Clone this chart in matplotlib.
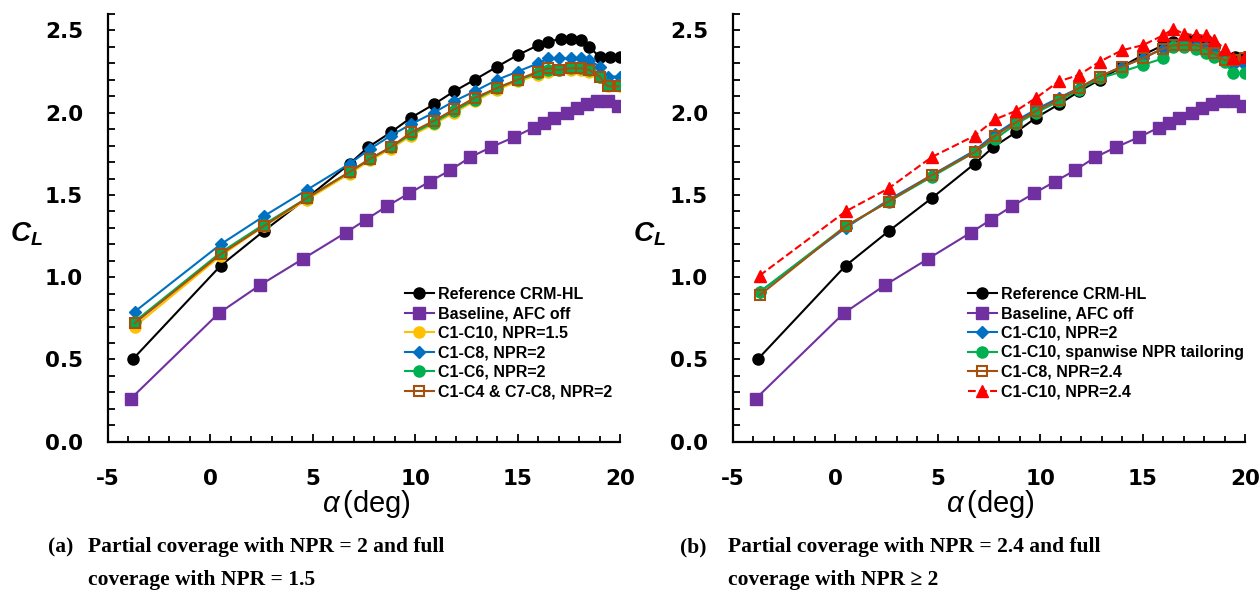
import matplotlib
matplotlib.use("Agg")
import matplotlib.pyplot as plt
from matplotlib.ticker import MultipleLocator

plt.rcParams['font.family'] = 'Liberation Sans'
plt.rcParams['axes.unicode_minus'] = False
plt.rcParams['mathtext.fontset'] = 'custom'
plt.rcParams['mathtext.it'] = 'Liberation Sans:italic'
plt.rcParams['mathtext.bf'] = 'Liberation Sans:italic:bold'

# angle of attack (deg)
alpha_ref = [-3.8, 0.5, 2.6, 4.7, 6.8, 7.7, 8.8, 9.8, 10.9, 11.9, 12.9, 14.0, 15.0,
             16.0, 16.5, 17.1, 17.6, 18.1, 18.5, 19.0, 19.5, 20.0]
alpha_base = [-3.9, 0.4, 2.4, 4.5, 6.6, 7.6, 8.6, 9.7, 10.7, 11.7, 12.7, 13.7, 14.8,
              15.8, 16.3, 16.8, 17.4, 17.9, 18.4, 18.9, 19.4, 19.9]
alpha_afc = [-3.7, 0.5, 2.6, 4.7, 6.8, 7.8, 8.8, 9.8, 10.9, 11.9, 12.9, 14.0, 15.0,
             16.0, 16.5, 17.0, 17.6, 18.1, 18.5, 19.0, 19.4, 20.0]

cl_ref = [0.50, 1.07, 1.28, 1.48, 1.69, 1.79, 1.88, 1.97, 2.05, 2.13, 2.20, 2.28, 2.35,
          2.41, 2.43, 2.45, 2.45, 2.44, 2.40, 2.34, 2.34, 2.34]
cl_base = [0.26, 0.78, 0.95, 1.11, 1.27, 1.35, 1.43, 1.51, 1.58, 1.65, 1.73, 1.79, 1.85,
           1.91, 1.94, 1.97, 2.00, 2.03, 2.05, 2.07, 2.07, 2.04]

# (a) partial coverage NPR=2, full coverage NPR=1.5
cl_c10_15 = [0.70, 1.13, 1.31, 1.47, 1.63, 1.71, 1.78, 1.86, 1.93, 2.00, 2.07, 2.14, 2.19,
             2.23, 2.25, 2.26, 2.26, 2.26, 2.25, 2.22, 2.16, 2.16]
cl_c8_2 = [0.79, 1.20, 1.37, 1.53, 1.69, 1.78, 1.86, 1.93, 2.00, 2.07, 2.13, 2.20, 2.25,
           2.30, 2.33, 2.33, 2.33, 2.33, 2.32, 2.28, 2.22, 2.22]
cl_c6_2 = [0.73, 1.15, 1.32, 1.48, 1.64, 1.72, 1.79, 1.87, 1.94, 2.01, 2.08, 2.15, 2.20,
           2.24, 2.26, 2.26, 2.27, 2.27, 2.26, 2.22, 2.17, 2.17]
cl_c4c7_2 = [0.72, 1.14, 1.31, 1.48, 1.64, 1.72, 1.79, 1.88, 1.95, 2.02, 2.09, 2.15, 2.20,
             2.25, 2.27, 2.26, 2.27, 2.27, 2.26, 2.22, 2.16, 2.16]

# (b) partial coverage NPR=2.4, full coverage NPR>=2
cl_c10_2 = [0.91, 1.30, 1.47, 1.62, 1.77, 1.87, 1.95, 2.02, 2.09, 2.15, 2.22, 2.28, 2.33,
            2.39, 2.41, 2.42, 2.41, 2.40, 2.37, 2.33, 2.29, 2.29]
cl_c10_span = [0.91, 1.31, 1.46, 1.61, 1.76, 1.84, 1.93, 2.00, 2.07, 2.14, 2.21, 2.25, 2.29,
               2.33, 2.40, 2.40, 2.39, 2.36, 2.34, 2.31, 2.24, 2.24]
cl_c8_24 = [0.89, 1.31, 1.46, 1.62, 1.76, 1.86, 1.94, 2.01, 2.08, 2.15, 2.22, 2.28, 2.33,
            2.39, 2.41, 2.41, 2.41, 2.39, 2.36, 2.32, 2.32, 2.33]
cl_c10_24 = [1.01, 1.40, 1.54, 1.73, 1.86, 1.96, 2.01, 2.09, 2.19, 2.23, 2.31, 2.38, 2.41,
             2.47, 2.51, 2.48, 2.47, 2.47, 2.44, 2.39, 2.33, 2.34]

PURPLE = '#7030A0'
YELLOW = '#FFC000'
BLUE = '#0070C0'
GREEN = '#00B050'
BROWN = '#A5500F'

fig = plt.figure(figsize=(12.6, 5.96), dpi=100)
W, H = 1260.0, 596.0
ax1 = fig.add_axes([108 / W, 1 - 441.7 / H, 512 / W, 427.7 / H])
ax2 = fig.add_axes([733 / W, 1 - 441.7 / H, 512 / W, 427.7 / H])

lw = 1.5
ms = 8


def common(ax):
    ax.plot(alpha_ref, cl_ref, '-o', color='black', lw=lw, ms=ms, label='Reference CRM-HL')
    ax.plot(alpha_base, cl_base, '-s', color=PURPLE, lw=lw, ms=ms, label='Baseline, AFC off')


# ---- (a)
common(ax1)
ax1.plot(alpha_afc, cl_c10_15, '-o', color=YELLOW, lw=lw, ms=ms, label='C1-C10, NPR=1.5')
ax1.plot(alpha_afc, cl_c8_2, '-D', color=BLUE, lw=lw, ms=6.5, label='C1-C8, NPR=2')
ax1.plot(alpha_afc, cl_c6_2, '-o', color=GREEN, lw=lw, ms=ms, label='C1-C6, NPR=2')
ax1.plot(alpha_afc, cl_c4c7_2, '-s', color=BROWN, lw=lw, ms=7, mfc='none', mew=1.5,
         label='C1-C4 & C7-C8, NPR=2')

# ---- (b)
common(ax2)
ax2.plot(alpha_afc, cl_c10_2, '-D', color=BLUE, lw=lw, ms=6.5, label='C1-C10, NPR=2')
ax2.plot(alpha_afc, cl_c10_span, '-o', color=GREEN, lw=lw, ms=ms,
         label='C1-C10, spanwise NPR tailoring')
ax2.plot(alpha_afc, cl_c8_24, '-s', color=BROWN, lw=lw, ms=7, mfc='none', mew=1.5,
         label='C1-C8, NPR=2.4')
ax2.plot(alpha_afc, cl_c10_24, '--^', color='red', lw=lw, ms=ms, label='C1-C10, NPR=2.4')

for ax, lx, cx in [(ax1, 0.58, 27), (ax2, 0.459, 650)]:
    ax.set_xlim(-5, 20)
    ax.set_ylim(0, 2.6)
    ax.xaxis.set_major_locator(MultipleLocator(5))
    ax.xaxis.set_minor_locator(MultipleLocator(1))
    ax.yaxis.set_major_locator(MultipleLocator(0.5))
    ax.yaxis.set_minor_locator(MultipleLocator(0.1))
    ax.yaxis.set_major_formatter(plt.FormatStrFormatter('%.1f'))
    for s in ['top', 'right']:
        ax.spines[s].set_visible(False)
    for s in ['left', 'bottom']:
        ax.spines[s].set_linewidth(1.6)
    ax.tick_params(axis='x', which='major', direction='in', length=6, width=1.3, pad=20)
    ax.tick_params(axis='x', which='minor', direction='in', length=4, width=1.3)
    ax.tick_params(axis='y', which='both', direction='in', length=5, width=1.3, pad=18)
    for t in ax.get_xticklabels() + ax.get_yticklabels():
        t.set_fontfamily('DejaVu Sans')
        t.set_fontweight('bold')
        t.set_fontsize(15.5)
    leg = ax.legend(loc='upper left', bbox_to_anchor=(lx, 0.362), frameon=False,
                    borderpad=0, borderaxespad=0, handlelength=1.8, handletextpad=0.25,
                    labelspacing=0.28, prop={'weight': 'bold', 'size': 11.5})
    fig.text(cx / W, 1 - 234 / H, r'$\mathbf{C_L}$', fontsize=20, ha='center', va='center')

fig.text(366 / W, 1 - 504 / H, r'$\alpha\,$(deg)', fontsize=21, ha='center', va='center')
fig.text(990 / W, 1 - 504 / H, r'$\alpha\,$(deg)', fontsize=21, ha='center', va='center')

cap = dict(family='Liberation Serif', weight='bold', fontsize=15.5, va='center')
fig.text(48 / W, 1 - 547 / H, '(a)', **cap)
fig.text(88 / W, 1 - 547 / H, 'Partial coverage with NPR = 2 and full', **cap)
fig.text(88 / W, 1 - 580 / H, 'coverage with NPR = 1.5', **cap)
fig.text(680 / W, 1 - 547 / H, '(b)', **cap)
fig.text(728 / W, 1 - 547 / H, 'Partial coverage with NPR = 2.4 and full', **cap)
fig.text(728 / W, 1 - 580 / H, 'coverage with NPR \u2265 2', **cap)

fig.savefig('out.png', dpi=100)
